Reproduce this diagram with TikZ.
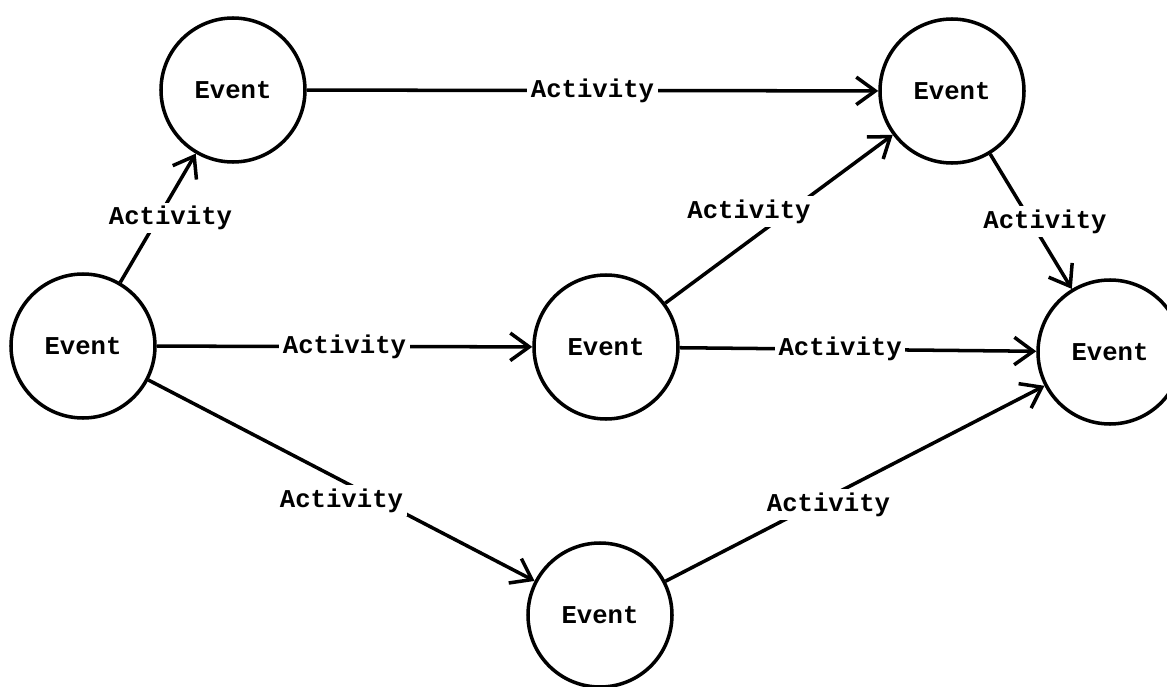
\documentclass[tikz,border=0pt]{standalone}
\usepackage{fontspec}
\setmonofont{Liberation Mono}
\usetikzlibrary{arrows.meta}

\begin{document}
\begin{tikzpicture}[
    event/.style={draw, circle, line width=2pt, minimum size=2.88cm, inner sep=0pt, font=\ttfamily\bfseries\fontsize{14.6}{16}\selectfont},
    arrow/.style={-{Straight Barb[length=0.38cm, width=0.55cm]}, line width=2pt},
    act/.style={fill=white, inner sep=2pt, font=\ttfamily\bfseries\fontsize{14.6}{16}\selectfont}
]
    \useasboundingbox (0,0) rectangle (23.34,-13.74);

    \node[event] (e1) at (1.66,-6.92) {Event};
    \node[event] (e2) at (4.66,-1.80) {Event};
    \node[event] (e3) at (12.12,-6.94) {Event};
    \node[event] (e4) at (12.00,-12.30) {Event};
    \node[event] (e5) at (19.04,-1.82) {Event};
    \node[event] (e6) at (22.20,-7.04) {Event};

    \draw[arrow] (e1) -- node[act, xshift=0.25cm] {Activity} (e2);
    \draw[arrow] (e2) -- node[act] {Activity} (e5);
    \draw[arrow] (e1) -- node[act] {Activity} (e3);
    \draw[arrow] (e1) -- node[act, yshift=-0.4cm] {Activity} (e4);
    \draw[arrow] (e3) -- node[act, xshift=-0.6cm, yshift=0.15cm] {Activity} (e5);
    \draw[arrow] (e3) -- node[act, pos=0.45] {Activity} (e6);
    \draw[arrow] (e4) -- node[act, pos=0.43, yshift=-0.15cm] {Activity} (e6);
    \draw[arrow] (e5) -- node[act, xshift=0.28cm] {Activity} (e6);
\end{tikzpicture}
\end{document}
